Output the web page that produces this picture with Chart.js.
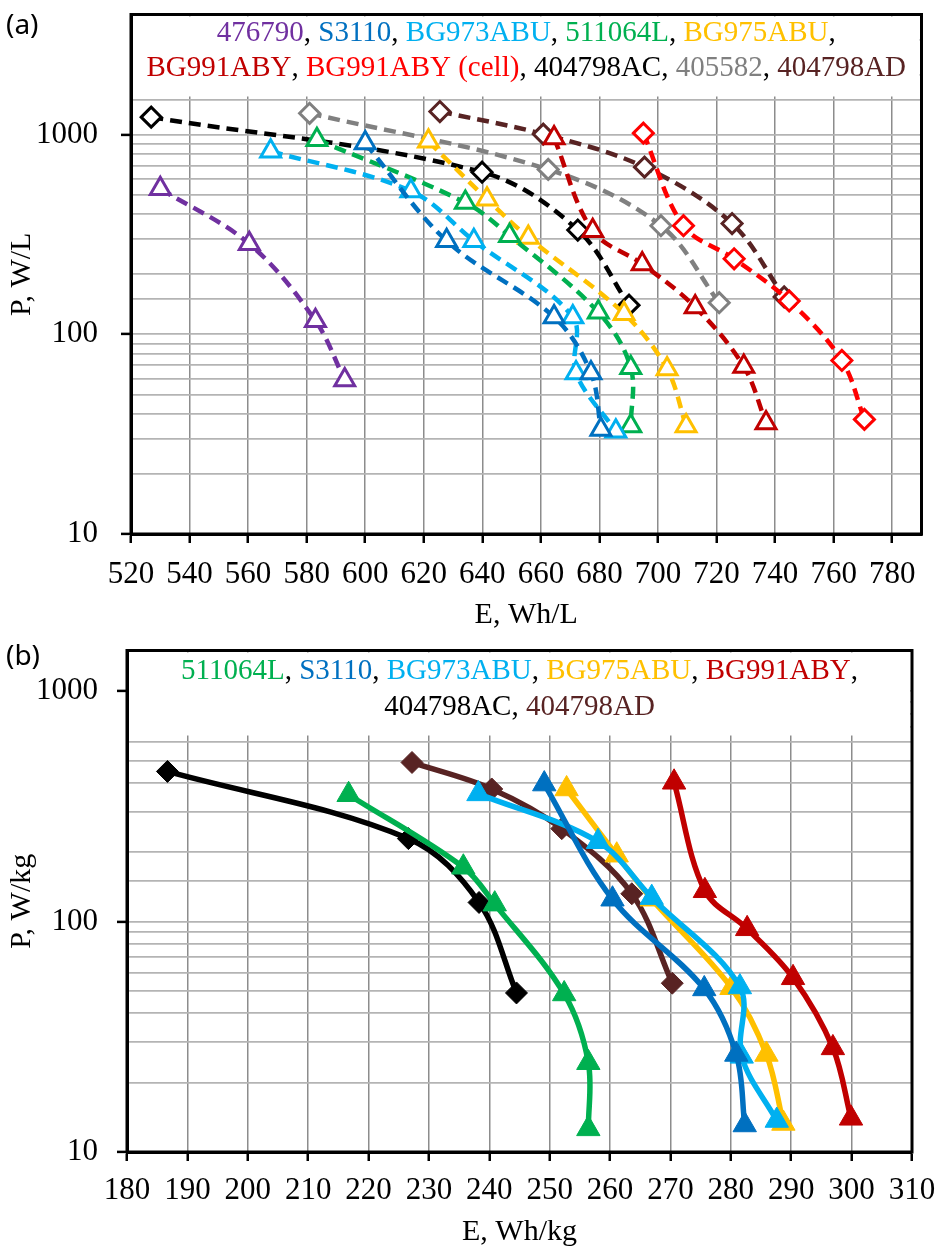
<!DOCTYPE html>
<html>
<head>
<meta charset="utf-8">
<script src="https://cdn.jsdelivr.net/npm/chart.js@4.4.1/dist/chart.umd.min.js"></script>
<style>
  html, body { margin: 0; padding: 0; background: #fff; }
  canvas { display: block; }
</style>
</head>
<body>
<canvas id="chartA" width="936" height="636"></canvas>
<canvas id="chartB" width="936" height="614"></canvas>
<script>
// ---- (a) volumetric: E in Wh/L, P in W/L ----
const A_476790_E = [530, 560.4, 583, 593];
const A_476790_P = [536, 284, 117, 59];
const A_S3110_E = [600, 627.8, 664.5, 677.1, 680.5];
const A_S3110_P = [908, 294, 122, 64, 33.4];
const A_BG973ABU_E = [567.7, 615.6, 637.1, 670.9, 672, 685.6];
const A_BG973ABU_P = [826, 522, 294, 122, 64, 32.7];
const A_511064L_E = [583.5, 634.2, 649.3, 679.6, 690.7, 690.7];
const A_511064L_P = [944, 457, 312, 129, 68, 34.7];
const A_BG975ABU_E = [621.6, 641.6, 655.7, 688.4, 703.1, 709.6];
const A_BG975ABU_P = [926, 475, 306, 127, 67, 34.7];
const A_BG991ABY_E = [664.5, 677.7, 694.6, 712.7, 729.3, 736.9];
const A_BG991ABY_P = [962, 330, 225, 137, 69, 36];
const A_BG991ABY_CELL_E = [695, 708.7, 726, 744.8, 762.8, 770.5];
const A_BG991ABY_CELL_P = [1018, 350, 239, 147, 74, 37.5];
const A_404798AC_E = [526.9, 639.9, 672.6, 690.1];
const A_404798AC_P = [1224, 649, 333, 140];
const A_405582_E = [581, 662.5, 701, 720.9];
const A_405582_P = [1280, 670, 350, 144];
const A_404798AD_E = [625.5, 660.8, 695.4, 725.3, 743.1];
const A_404798AD_P = [1306, 1007, 688, 359, 154];

// ---- (b) gravimetric: E in Wh/kg, P in W/kg ----
const B_511064L_E = [216.7, 235.7, 240.9, 252.4, 256.4, 256.4];
const B_511064L_P = [355, 172, 119, 48.5, 24.4, 12.6];
const B_S3110_E = [249.1, 260.4, 275.6, 280.9, 282.3];
const B_S3110_P = [395, 125, 51, 26.5, 13.1];
const B_BG973ABU_E = [238.2, 258, 266.9, 281.5, 281.8, 287.6];
const B_BG973ABU_P = [358, 222, 127, 52, 26, 13.7];
const B_BG975ABU_E = [252.8, 261.1, 266.9, 280.1, 285.9, 288.7];
const B_BG975ABU_P = [376, 194, 125, 51.6, 26.5, 13.3];
const B_BG991ABY_E = [270.6, 275.7, 282.7, 290.3, 296.9, 299.9];
const B_BG991ABY_P = [402, 136, 93, 57, 28.3, 14];
const B_404798AC_E = [186.7, 226.6, 238.3, 244.5];
const B_404798AC_P = [448, 229, 121, 49];
const B_404798AD_E = [227.2, 240.4, 252, 263.6, 270.3];
const B_404798AD_P = [490, 376, 253, 132, 54];

// legend rows (series names, in order)
const LEGEND_A = [
  ['476790', 'S3110', 'BG973ABU', '511064L', 'BG975ABU'],
  ['BG991ABY', 'BG991ABY (cell)', '404798AC', '405582', '404798AD'],
];
const LEGEND_B = [
  ['511064L', 'S3110', 'BG973ABU', 'BG975ABU', 'BG991ABY'],
  ['404798AC', '404798AD'],
];
const Y_LABELS = [10, 100, 1000];

const SERIES_A = [
  ['476790', A_476790_E, A_476790_P],
  ['S3110', A_S3110_E, A_S3110_P],
  ['BG973ABU', A_BG973ABU_E, A_BG973ABU_P],
  ['511064L', A_511064L_E, A_511064L_P],
  ['BG975ABU', A_BG975ABU_E, A_BG975ABU_P],
  ['BG991ABY', A_BG991ABY_E, A_BG991ABY_P],
  ['BG991ABY (cell)', A_BG991ABY_CELL_E, A_BG991ABY_CELL_P],
  ['404798AC', A_404798AC_E, A_404798AC_P],
  ['405582', A_405582_E, A_405582_P],
  ['404798AD', A_404798AD_E, A_404798AD_P],
];
const SERIES_B = [
  ['511064L', B_511064L_E, B_511064L_P],
  ['S3110', B_S3110_E, B_S3110_P],
  ['BG973ABU', B_BG973ABU_E, B_BG973ABU_P],
  ['BG975ABU', B_BG975ABU_E, B_BG975ABU_P],
  ['BG991ABY', B_BG991ABY_E, B_BG991ABY_P],
  ['404798AC', B_404798AC_E, B_404798AC_P],
  ['404798AD', B_404798AD_E, B_404798AD_P],
];

// styles
const COLOR = {
  '476790': '#7030a0', 'S3110': '#0070c0', 'BG973ABU': '#00b0f0', '511064L': '#00b050',
  'BG975ABU': '#ffc000', 'BG991ABY': '#c00000', 'BG991ABY (cell)': '#ff0000',
  '404798AC': '#000000', '405582': '#808080', '404798AD': '#582323',
};
const DIAMONDS = ['BG991ABY (cell)', '404798AC', '405582', '404798AD'];
const SERIF = '"Liberation Serif", "Times New Roman", serif';

Chart.defaults.font.family = SERIF;
Chart.defaults.font.size = 31;
Chart.defaults.color = '#000';

function dashedSet([name, E, P]) {
  const diamond = DIAMONDS.includes(name);
  return {
    label: name,
    data: E.map((x, i) => ({ x, y: P[i] })),
    borderColor: COLOR[name],
    borderWidth: 4.5,
    borderDash: [12, 7],
    tension: 0.35,
    pointStyle: diamond ? 'rectRot' : 'triangle',
    pointRadius: diamond ? 10 : 11.5,
    pointBorderWidth: 3,
    pointBorderColor: COLOR[name],
    pointBackgroundColor: '#fff',
  };
}

function solidSet([name, E, P]) {
  const diamond = DIAMONDS.includes(name);
  return {
    label: name,
    data: E.map((x, i) => ({ x, y: P[i] })),
    borderColor: COLOR[name],
    borderWidth: 5.5,
    tension: 0.35,
    pointStyle: diamond ? 'rectRot' : 'triangle',
    pointRadius: diamond ? 11 : 13.5,
    pointBorderWidth: 1,
    pointBorderColor: COLOR[name],
    pointBackgroundColor: COLOR[name],
  };
}

// legend box inside the plot, frame and panel tag
const panelPlugin = {
  id: 'panel',
  beforeDatasetsDraw(chart, _args, o) {
    const { ctx, chartArea: ca } = chart;
    ctx.save();
    ctx.fillStyle = '#fff';
    ctx.fillRect(ca.left + 2, ca.top + 2, ca.width - 4, o.boxH);
    ctx.font = '29px ' + SERIF;
    ctx.textBaseline = 'middle';
    o.lines.forEach((names, i) => {
      const segs = [];
      names.forEach((n, j) => {
        segs.push([n, COLOR[n]]);
        if (j < names.length - 1) segs.push([', ', '#000']);
        else if (i < o.lines.length - 1) segs.push([',', '#000']);
      });
      const w = segs.reduce((s, [t]) => s + ctx.measureText(t).width, 0);
      let x = (ca.left + ca.right - w) / 2;
      segs.forEach(([t, c]) => {
        ctx.fillStyle = c;
        ctx.fillText(t, x, ca.top + o.lineY[i]);
        x += ctx.measureText(t).width;
      });
    });
    ctx.restore();
  },
  afterDraw(chart, _args, o) {
    const { ctx, chartArea: ca } = chart;
    ctx.save();
    ctx.strokeStyle = '#000';
    ctx.lineWidth = 3;
    ctx.strokeRect(ca.left, ca.top, ca.width, ca.height);
    ctx.font = '28px "Noto Sans", sans-serif';
    ctx.fillStyle = '#000';
    ctx.textBaseline = 'middle';
    ctx.fillText(o.tag, 6, o.tagY);
    ctx.restore();
  },
};

function scales(o) {
  return {
    x: {
      type: 'linear', min: o.xMin, max: o.xMax,
      afterFit: s => { s.height = o.xH; s.paddingLeft = 0; s.paddingRight = 0; },
      ticks: { stepSize: o.xStep, includeBounds: false, padding: o.xPad, maxRotation: 0 },
      grid: { color: '#8c8c8c', lineWidth: 1.5, tickLength: 9, tickColor: '#000', tickWidth: 2.5 },
      border: { color: '#000', width: 3 },
      title: { display: true, text: o.xTitle, font: { size: 30 }, padding: { top: 0, bottom: o.xTitlePad } },
    },
    y: {
      type: 'logarithmic', min: 10, max: o.yMax,
      afterFit: s => { s.width = o.yW; s.paddingTop = 0; s.paddingBottom = 0; },
      ticks: { autoSkip: false, padding: o.yPad, callback: v => Y_LABELS.includes(v) ? String(v) : '' },
      grid: {
        color: '#b4b4b4', lineWidth: 1.8, tickLength: 10, tickWidth: 2.5,
        tickColor: c => (c.tick && Y_LABELS.includes(c.tick.value)) ? '#000' : 'rgba(0,0,0,0)',
      },
      border: { color: '#000', width: 3 },
      title: { display: true, text: o.yTitle, font: { size: 30 }, padding: { top: 4, bottom: 0 } },
    },
  };
}

function makeChart(id, datasets, sc, pad, panel) {
  return new Chart(document.getElementById(id), {
    type: 'line',
    data: { datasets },
    options: {
      responsive: false,
      animation: false,
      layout: { padding: pad },
      plugins: { legend: { display: false }, tooltip: { enabled: false }, panel },
      scales: sc,
    },
    plugins: [panelPlugin],
  });
}

makeChart('chartA', SERIES_A.map(dashedSet),
  scales({ xMin: 520, xMax: 790, xStep: 20, xH: 102, xPad: 13, xTitlePad: 3, xTitle: 'E, Wh/L',
           yMax: 4000, yW: 131, yPad: 23, yTitle: 'P, W/L' }),
  { top: 13, right: 8, left: 0, bottom: 0 },
  { lines: LEGEND_A, boxH: 80, lineY: [18.5, 53.5], tag: '(a)', tagY: 26 });

makeChart('chartB', SERIES_B.map(solidSet),
  scales({ xMin: 180, xMax: 310, xStep: 10, xH: 98, xPad: 11, xTitlePad: 0, xTitle: 'E, Wh/kg',
           yMax: 1500, yW: 127, yPad: 19, yTitle: 'P, W/kg' }),
  { top: 8, right: 24, left: 0, bottom: 0 },
  { lines: LEGEND_B, boxH: 83, lineY: [21, 57], tag: '(b)', tagY: 21 });
</script>
</body>
</html>
